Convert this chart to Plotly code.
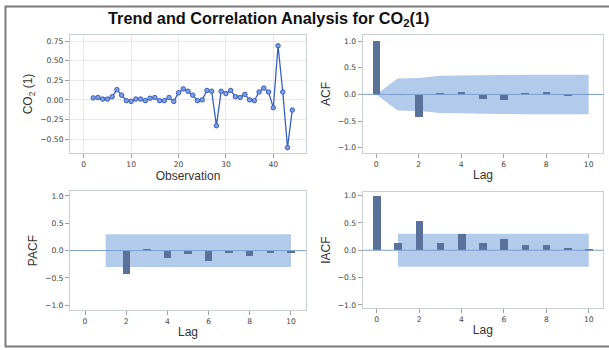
import plotly.graph_objects as go

W, H = 609, 350

# ---------------- data ----------------
obs = list(range(2, 45))
co2_diff = [0.025, 0.03, 0.01, 0.01, 0.04, 0.13, 0.06, -0.01, -0.02, 0.01,
            0.01, -0.01, 0.02, 0.03, -0.01, -0.01, 0.03, -0.02, 0.09, 0.14,
            0.11, 0.06, -0.01, 0.00, 0.12, 0.11, -0.33, 0.11, 0.08, 0.12,
            0.04, 0.03, 0.07, 0.00, -0.01, 0.10, 0.15, 0.10, -0.10, 0.69,
            0.10, -0.61, -0.13]

lags = list(range(0, 11))
acf = [1.0, 0.005, -0.42, 0.02, 0.04, -0.08, -0.11, 0.015, 0.04, -0.01, 0.005]
acf_band = [0.0, 0.30, 0.31, 0.35, 0.355, 0.36, 0.365, 0.37, 0.37, 0.37, 0.37]

pacf_lags = list(range(1, 11))
pacf = [0.005, -0.42, 0.02, -0.14, -0.07, -0.18, -0.05, -0.09, -0.05, -0.04]
pacf_band = [0.30] * 10

iacf_lags = list(range(0, 11))
iacf = [1.0, 0.13, 0.53, 0.13, 0.30, 0.14, 0.21, 0.09, 0.09, 0.04, 0.03]
iacf_band_lags = list(range(1, 11))
iacf_band = [0.30] * 10

# ---------------- style ----------------
BAR = "#5a7199"
BAND = "#b3cbea"
ZERO = "#7d9fcf"
LINE = "#3a5fc2"
FRAME = "#c9cfd6"
TICKF = dict(family="DejaVu Sans", size=7.6, color="#444444")
TITLEF = dict(family="Liberation Sans, Arial", size=12, color="#333333")


def px_x(p):
    return p / W


def px_y(p):
    return 1 - p / H


fig = go.Figure()

# Series plot
fig.add_trace(go.Scatter(
    x=obs, y=co2_diff, mode="lines+markers", xaxis="x", yaxis="y",
    line=dict(color=LINE, width=1.3),
    marker=dict(symbol="circle", size=4.5, color="#7f9ee0",
                line=dict(color=LINE, width=1)),
    showlegend=False))


def bar_trace(xs, vals, xa, ya):
    return go.Bar(x=xs, y=vals, width=0.36, marker=dict(color=BAR, line=dict(width=0)),
                  xaxis=xa, yaxis=ya, showlegend=False)


fig.add_trace(bar_trace(lags, acf, "x2", "y2"))
fig.add_trace(bar_trace(pacf_lags, pacf, "x3", "y3"))
fig.add_trace(bar_trace(iacf_lags, iacf, "x4", "y4"))


def band_shape(xs, vals, k):
    pts = list(zip(xs, vals)) + list(zip(xs[::-1], [-v for v in vals[::-1]]))
    path = "M " + " L ".join(f"{x},{y}" for x, y in pts) + " Z"
    fig.add_shape(type="path", path=path, xref=f"x{k}", yref=f"y{k}",
                  fillcolor=BAND, line=dict(width=0), layer="below")


band_shape(lags, acf_band, "2")
band_shape(pacf_lags, pacf_band, "3")
band_shape(iacf_band_lags, iacf_band, "4")

common_ax = dict(showline=True, linecolor=FRAME, linewidth=1, mirror=True,
                 ticks="outside", ticklen=4, tickcolor="#a0a0a0", tickwidth=1,
                 tickfont=TICKF, zeroline=False)

dom_top = [px_y(153), px_y(34)]
dom_left = [px_x(70), px_x(306)]
dom_right = [px_x(362.7), px_x(603.3)]

fig.update_layout(
    width=W, height=H, margin=dict(l=0, r=0, t=0, b=0),
    paper_bgcolor="white", plot_bgcolor="white", bargap=0,
    xaxis=dict(domain=dom_left, range=[-2.9, 46.9], tickvals=[0, 10, 20, 30, 40],
               showgrid=True, gridcolor="#e8e8e8", anchor="y",
               title=dict(text="Observation", font=TITLEF, standoff=2), **common_ax),
    yaxis=dict(domain=dom_top, range=[-0.68, 0.83],
               tickvals=[-0.5, -0.25, 0, 0.25, 0.5, 0.75], tickformat=".2f",
               showgrid=True, gridcolor="#e8e8e8", anchor="x",
               title=dict(text="CO<sub>2</sub> (1)", font=TITLEF, standoff=4), **common_ax),
    xaxis2=dict(domain=dom_right, range=[-0.64, 10.69], tickvals=[0, 2, 4, 6, 8, 10],
                showgrid=False, anchor="y2",
                title=dict(text="Lag", font=TITLEF, standoff=2), **common_ax),
    yaxis2=dict(domain=dom_top, range=[-1.1, 1.117], tickvals=[-1, -0.5, 0, 0.5, 1],
                tickformat=".1f", showgrid=False, anchor="x2",
                title=dict(text="ACF", font=TITLEF, standoff=4), **common_ax),
    xaxis3=dict(domain=dom_left, range=[-0.73, 10.73], tickvals=[0, 2, 4, 6, 8, 10],
                showgrid=False, anchor="y3",
                title=dict(text="Lag", font=TITLEF, standoff=2), **common_ax),
    yaxis3=dict(domain=[px_y(311), px_y(191)], range=[-1.09, 1.09],
                tickvals=[-1, -0.5, 0, 0.5, 1], tickformat=".1f", showgrid=False,
                anchor="x3",
                title=dict(text="PACF", font=TITLEF, standoff=4), **common_ax),
    xaxis4=dict(domain=[px_x(362.7), px_x(603)], range=[-0.66, 10.67],
                tickvals=[0, 2, 4, 6, 8, 10], showgrid=False, anchor="y4",
                title=dict(text="Lag", font=TITLEF, standoff=2), **common_ax),
    yaxis4=dict(domain=[px_y(309), px_y(192)], range=[-1.06, 1.067],
                tickvals=[-1, -0.5, 0, 0.5, 1], tickformat=".1f", showgrid=False,
                anchor="x4",
                title=dict(text="IACF", font=TITLEF, standoff=4), **common_ax),
)

# zero reference lines in correlation panels
for k in ["2", "3", "4"]:
    fig.add_shape(type="line", xref=f"x{k} domain", yref=f"y{k}", x0=0, x1=1,
                  y0=0, y1=0, line=dict(color=ZERO, width=1), layer="above")

# outer frame
fig.add_shape(type="rect", xref="paper", yref="paper",
              x0=px_x(5.5), x1=px_x(615), y0=px_y(347.5), y1=px_y(5.5),
              line=dict(color="#7a7a7a", width=2), layer="above")

fig.add_annotation(text="<b>Trend and Correlation Analysis for CO<sub>2</sub>(1)</b>",
                   xref="paper", yref="paper", x=px_x(268), y=px_y(18),
                   xanchor="center", yanchor="middle", showarrow=False,
                   font=dict(family="Liberation Sans, Arial", size=16.3, color="#111111"))

fig.write_html("out.html")
